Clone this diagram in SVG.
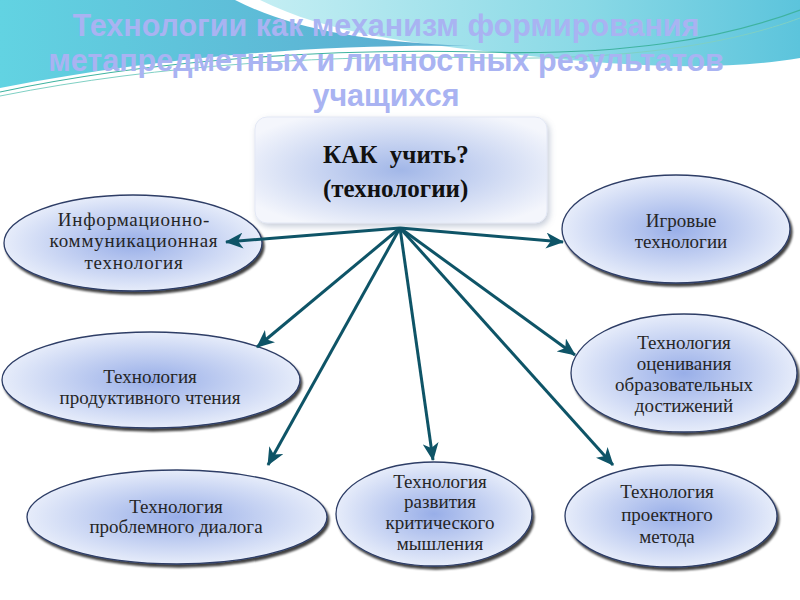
<svg xmlns="http://www.w3.org/2000/svg" width="800" height="600" viewBox="0 0 800 600">
<defs>
<linearGradient id="tealL" x1="0" y1="0" x2="1" y2="0">
<stop offset="0" stop-color="#62d3e2"/><stop offset="1" stop-color="#5aa9cf"/>
</linearGradient>
<linearGradient id="tealR" x1="0" y1="0" x2="1" y2="0">
<stop offset="0" stop-color="#c4eef3"/><stop offset="0.6" stop-color="#8ad9e6"/><stop offset="1" stop-color="#5cc4dc"/>
</linearGradient>
<radialGradient id="boxG" cx="0.5" cy="0.5" r="0.6">
<stop offset="0" stop-color="#a2b7e8"/><stop offset="1" stop-color="#f4f6fc"/>
</radialGradient>
<radialGradient id="ellG" cx="0.5" cy="0.5" r="0.5">
<stop offset="0" stop-color="#98aee8"/><stop offset="1" stop-color="#e6ecfa"/>
</radialGradient>
<filter id="sh" x="-10%" y="-10%" width="125%" height="130%">
<feDropShadow dx="2" dy="3" stdDeviation="1.3" flood-color="#000" flood-opacity="0.75"/>
</filter>
<filter id="bsh" x="-10%" y="-10%" width="125%" height="130%">
<feDropShadow dx="2" dy="3" stdDeviation="3" flood-color="#7080a0" flood-opacity="0.4"/>
</filter>
<marker id="ah" markerUnits="userSpaceOnUse" markerWidth="18" markerHeight="16" refX="17" refY="8" orient="auto">
<path d="M0,0 L18,8 L0,16 L5,8 Z" fill="#0e5467"/>
</marker>
<style>
.title{font-family:"Liberation Sans",Arial,sans-serif;font-weight:bold;font-size:30.5px;fill:#a9b3f2;text-anchor:middle}
.ell{fill:url(#ellG);stroke:#2d3d66;stroke-width:1.3;filter:url(#sh)}
.t{font-family:"Liberation Serif","Times New Roman",serif;font-size:19px;fill:#262626;text-anchor:middle}
.ct{font-family:"Liberation Serif","Times New Roman",serif;font-weight:bold;font-size:25px;fill:#111}
.con line{stroke:#0e5467;stroke-width:3;marker-end:url(#ah)}
</style>
</defs>
<rect width="800" height="600" fill="#ffffff"/>
<g id="background">
<path d="M260,0 L800,0 L800,58 C720,72 620,66 520,55 C420,44 330,35 260,0 Z" fill="url(#tealR)"/>
<path d="M0,0 L235,0 C290,28 360,42 470,46 C330,44 170,55 0,88 Z" fill="url(#tealL)"/>
<path d="M0,92 C150,60 330,48 480,52 C620,56 720,40 800,10" fill="none" stroke="#3fb3a0" stroke-width="1.2"/>
<path d="M0,96 C160,64 340,54 490,58 C630,60 730,44 800,18" fill="none" stroke="#7fd0c4" stroke-width="1"/>
</g>
<g id="title">
<text class="title" x="386" y="36">Технологии как механизм формирования</text>
<text class="title" x="386" y="71">метапредметных и личностных результатов</text>
<text class="title" x="386" y="106">учащихся</text>
</g>
<g id="center">
<rect x="255" y="117" width="292" height="106" rx="12" fill="url(#boxG)" stroke="#e3e8f5" stroke-width="1" filter="url(#bsh)"/>
<text class="ct" x="323" y="163" xml:space="preserve">КАК  учить?</text>
<text class="ct" x="323" y="197">(технологии)</text>
</g>
<g id="n-ikt">
<ellipse class="ell" cx="133" cy="243" rx="129" ry="48"/>
<text class="t" x="134" y="226" font-size="20" letter-spacing="0.8">Информационно-</text>
<text class="t" x="134" y="247" font-size="20" letter-spacing="0.8">коммуникационная</text>
<text class="t" x="134" y="269" font-size="20" letter-spacing="0.8">технология</text>
</g>
<g id="n-game">
<ellipse class="ell" cx="676" cy="229" rx="114" ry="54"/>
<text class="t" x="681" y="227">Игровые</text>
<text class="t" x="681" y="248">технологии</text>
</g>
<g id="n-read">
<ellipse class="ell" cx="151" cy="380" rx="149" ry="48"/>
<text class="t" x="150" y="383">Технология</text>
<text class="t" x="150" y="404">продуктивного чтения</text>
</g>
<g id="n-eval">
<ellipse class="ell" cx="684" cy="373" rx="113" ry="59"/>
<text class="t" x="684" y="349">Технология</text>
<text class="t" x="684" y="370">оценивания</text>
<text class="t" x="684" y="391">образовательных</text>
<text class="t" x="684" y="412">достижений</text>
</g>
<g id="n-dialog">
<ellipse class="ell" cx="177" cy="517" rx="150" ry="47"/>
<text class="t" x="176" y="513">Технология</text>
<text class="t" x="176" y="533">проблемного диалога</text>
</g>
<g id="n-crit">
<ellipse class="ell" cx="434" cy="514" rx="98" ry="52"/>
<text class="t" x="440" y="488">Технология</text>
<text class="t" x="440" y="508">развития</text>
<text class="t" x="440" y="529">критического</text>
<text class="t" x="440" y="550">мышления</text>
</g>
<g id="n-proj">
<ellipse class="ell" cx="671" cy="516" rx="106" ry="51"/>
<text class="t" x="667" y="498">Технология</text>
<text class="t" x="667" y="521">проектного</text>
<text class="t" x="667" y="543">метода</text>
</g>
<g id="connectors" class="con">
<line x1="400" y1="228" x2="226" y2="242"/>
<line x1="400" y1="228" x2="563" y2="242"/>
<line x1="400" y1="228" x2="257" y2="347"/>
<line x1="400" y1="228" x2="575" y2="355"/>
<line x1="400" y1="228" x2="268" y2="465"/>
<line x1="400" y1="228" x2="433" y2="460"/>
<line x1="400" y1="228" x2="613" y2="465"/>
</g>
</svg>
